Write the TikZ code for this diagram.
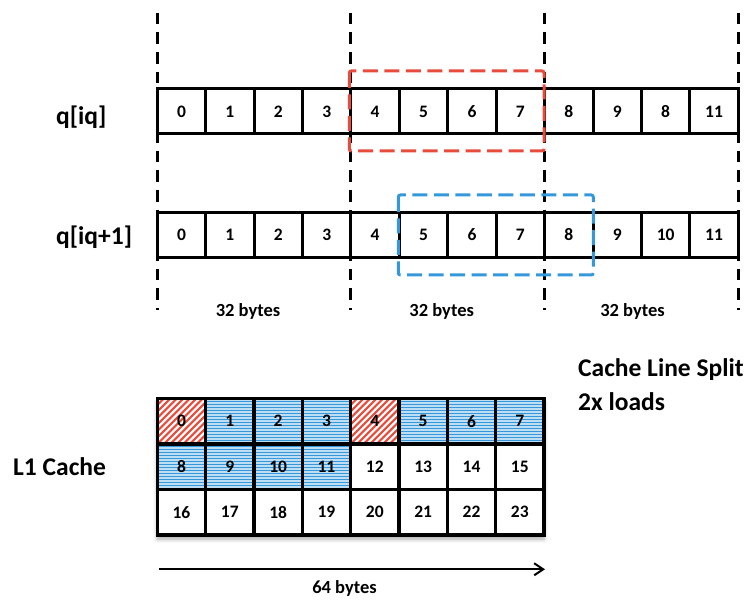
\documentclass[tikz,border=0pt]{standalone}
\usepackage{fontspec}
\setmainfont{Carlito}
\usetikzlibrary{arrows.meta,shadows.blur}
\definecolor{splitred}{RGB}{231,76,60}
\definecolor{loadblue}{RGB}{52,152,219}
\definecolor{loadbluelight}{RGB}{190,222,243}
\begin{document}
\begin{tikzpicture}[x=1pt,y=-1pt,
  cellbox/.style={draw=black, line width=3pt, fill=white, minimum width=48.42pt,
    minimum height=45pt, inner sep=0pt, font=\fontsize{17.5}{17.5}\selectfont\bfseries},
  cachebox/.style={cellbox, minimum width=48.34pt, minimum height=45.5pt, line width=3.4pt},
  redhatch/.style={path picture={
    \foreach \k in {-52,-45.5,...,52}
      \draw[splitred, line width=2.1pt]
        ([xshift=\k pt]path picture bounding box.south west) -- ++(60,-60);}},
  % horizontal stripes; the argument is the offset of the first stripe
  bluestripe/.style={fill=loadbluelight, path picture={
    \foreach \m in {0,...,16}
      \draw[loadblue, line width=1.5pt]
        ([yshift={-(#1+3*\m)*1pt}]path picture bounding box.north west) -- ++(52,0);}},
  stripetop/.style={bluestripe=0},
  stripemid/.style={bluestripe=2.5},
  boundary/.style={draw=black, line width=3pt, dash pattern=on 11.7pt off 8pt},
  redframe/.style={draw=splitred, line width=3pt, dash pattern=on 15pt off 6.5pt, rounded corners=2pt},
  blueframe/.style={draw=loadblue, line width=3pt, dash pattern=on 15pt off 6.5pt, rounded corners=2pt},
  biglabel/.style={inner sep=0pt, font=\fontsize{25.5}{25.5}\selectfont\bfseries},
  bytelabel/.style={inner sep=0pt, font=\fontsize{18.5}{18.5}\selectfont\bfseries},
  span/.style={line width=2pt, -{Straight Barb[length=9pt,width=12pt]}}
]
\useasboundingbox (0,0) rectangle (748,604);

% 32-byte boundaries
\foreach \x in {157.3,350.7,544,738.3}
  \draw[boundary] (\x,12.7) -- (\x,310.5);

% row labels
\node[biglabel, anchor=base west] (lq) at (56,125) {q[iq]};
\node[biglabel, anchor=base west] (lq1) at (56,245) {q[iq+1]};

% q[iq]
\foreach \v [count=\i from 0] in {0,1,2,3,4,5,6,7,8,9,8,11}
  \node[cellbox] (a\i) at ({157.3+48.417*(\i+0.5)},111.5) {\v};
% q[iq+1]
\foreach \v [count=\i from 0] in {0,1,2,3,4,5,6,7,8,9,10,11}
  \node[cellbox] (b\i) at ({157.3+48.417*(\i+0.5)},235) {\v};

% the two 16-byte loads
\draw[redframe] (349.3,71) rectangle (544,151);
\draw[blueframe] (398.3,195) rectangle (593.3,275);

% segment sizes
\node[bytelabel, anchor=base] (s1) at (248,317) {32 bytes};
\node[bytelabel, anchor=base] (s2) at (441.7,317) {32 bytes};
\node[bytelabel, anchor=base] (s3) at (632.5,317) {32 bytes};

% L1 cache lines
\path[fill=white, blur shadow={shadow xshift=0pt, shadow yshift=-4pt,
  shadow blur radius=4pt, shadow opacity=35}] (157.3,398.5) rectangle (544,535);
\foreach \v [count=\i from 0] in {0,...,23}{
  \pgfmathtruncatemacro{\col}{mod(\i,8)}
  \pgfmathtruncatemacro{\row}{div(\i,8)}
  \ifnum\i=0 \def\extra{redhatch}\else
  \ifnum\i=4 \def\extra{redhatch}\else
  \ifnum\i<8 \def\extra{stripetop}\else
  \ifnum\i<12 \def\extra{stripemid}\else
  \def\extra{}\fi\fi\fi\fi
  \node[cachebox, \extra] (c\i) at ({157.3+48.34*(\col+0.5)},{421.25+45.5*\row}) {\v};
}

\node[biglabel, anchor=base west] (l1) at (13,475.7) {L1 Cache};
\node[biglabel, anchor=base west] (split) at (578,376.7) {Cache Line Split};
\node[biglabel, anchor=base west] (loads) at (578,410) {2x loads};

% cache line width
\coordinate (spanL) at (159,569.3);
\coordinate (spanR) at (545,569.3);
\draw[span] (spanL) -- (spanR);
\node[bytelabel, anchor=base] (s64) at (344.5,593) {64 bytes};
\end{tikzpicture}
\end{document}
